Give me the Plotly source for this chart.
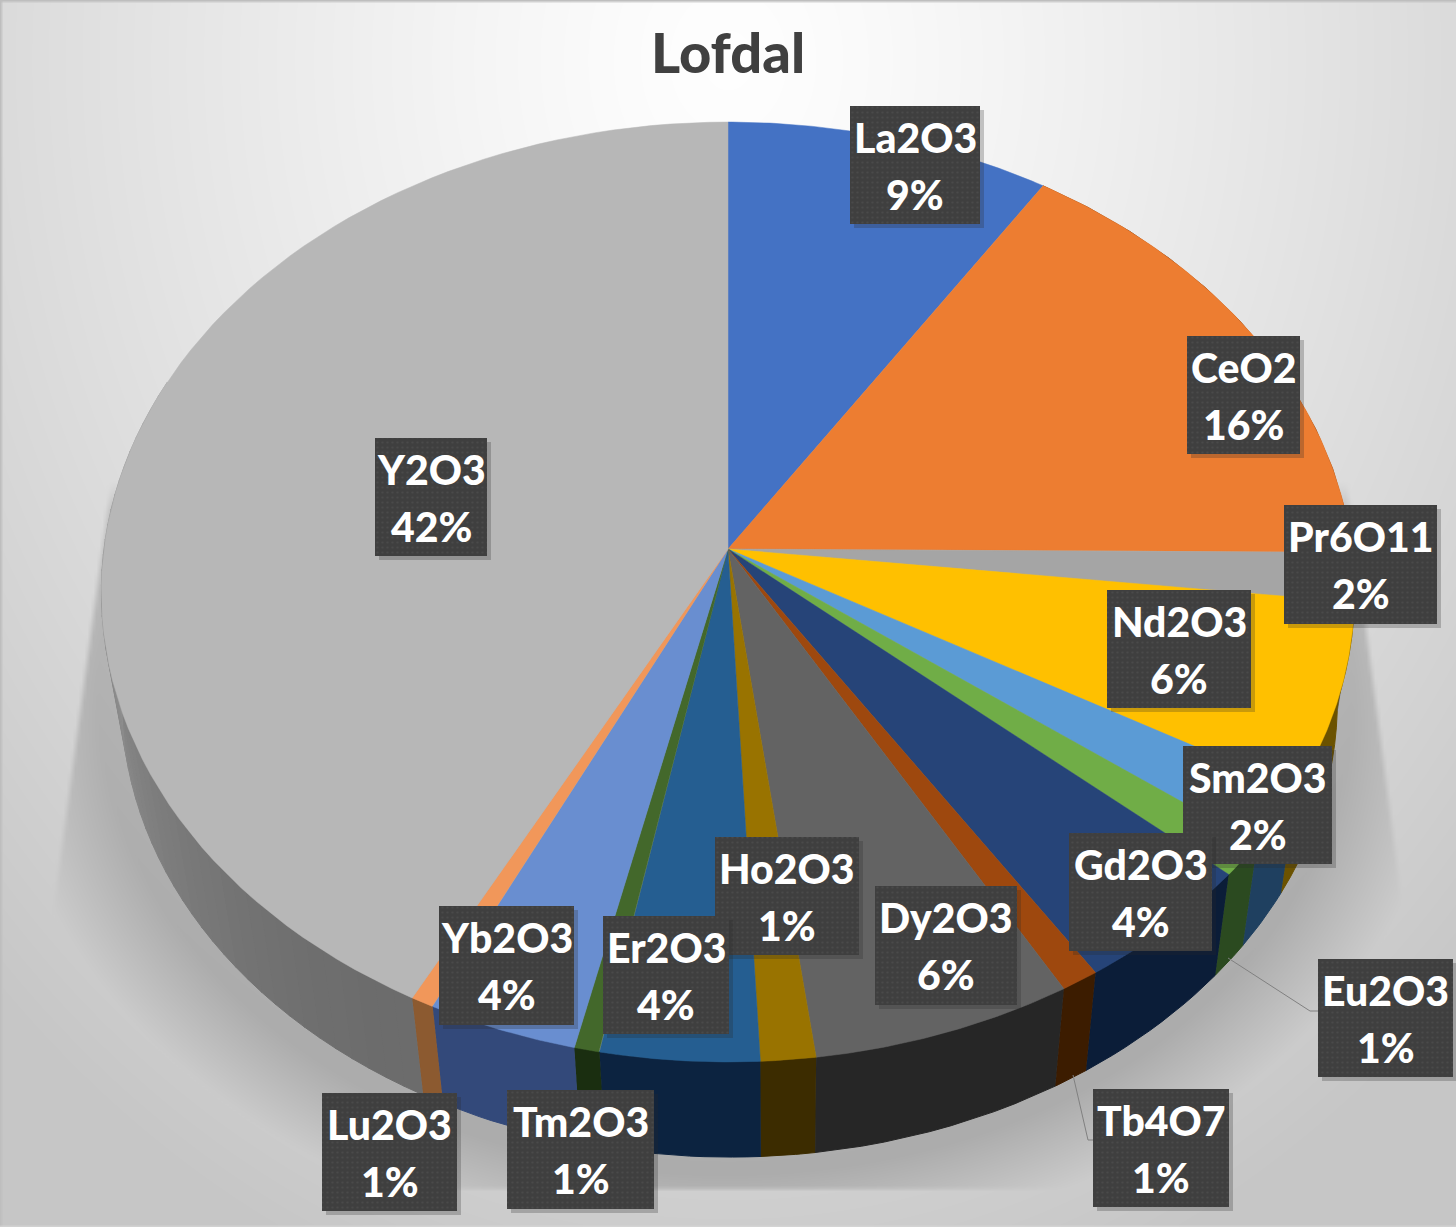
import numpy as np
import plotly.graph_objects as go

# ---- data ----
oxides = ["La2O3", "CeO2", "Pr6O11", "Nd2O3", "Sm2O3", "Eu2O3", "Gd2O3", "Tb4O7",
          "Dy2O3", "Ho2O3", "Er2O3", "Tm2O3", "Yb2O3", "Lu2O3", "Y2O3"]
shares = [9.15, 15.95, 1.7, 6.4, 2.0, 1.2, 4.45, 0.9, 6.2, 1.3, 3.75, 0.6, 3.55, 0.55, 42.3]
title_text = "Lofdal"

# ---- style ----
top_colors = ["#4472C4", "#ED7D31", "#A5A5A5", "#FFC000", "#5B9BD5", "#70AD47", "#264478",
              "#9E480E", "#636363", "#997300", "#255E91", "#43682B", "#698ED0", "#F1975A", "#B7B7B7"]
wall_colors = ["#2a4478", "#8a4a1c", "#666666", "#6b5200", "#1f4060", "#2b4a20", "#0b1d38",
               "#3c1c00", "#262626", "#3c2c00", "#0c2340", "#1a2e10", "#33497a", "#8c5a30", None]
# label box: left, right, top, bottom
label_boxes = [(850, 980, 106, 224), (1187, 1300, 336, 454), (1284, 1437, 505, 624),
               (1107, 1251, 590, 708), (1183, 1332, 746, 864), (1318, 1453, 959, 1077),
               (1069, 1212, 833, 951), (1093, 1229, 1089, 1207), (875, 1017, 886, 1005),
               (715, 859, 837, 955), (603, 729, 916, 1034), (507, 654, 1090, 1209),
               (439, 574, 906, 1025), (322, 457, 1093, 1211), (375, 487, 438, 556)]
leaders = [([1228, 1310, 1318], [958, 1011, 1011]), ([1073, 1088, 1093], [1075, 1140, 1140])]
W, H = 1456, 1227
FONT = "Lato"


# perspective projection of the disc's rim
def rim(theta):
    a, A, B = 0.0915, 624.0, 466.0
    w = 1 + a * np.cos(theta)
    return 728 + A * np.sin(theta) / w, 549 - B * np.cos(theta) / w


def lower(x, y):
    s = 0.97
    return 780 + s * (x - 780), 127 + s * y


fig = go.Figure()

# background with soft shadow
gx = np.linspace(0, W, 486)
gy = np.linspace(0, H, 410)
X, Y = np.meshgrid(gx, gy)
rb = np.sqrt(((X - 728) / 1050) ** 2 + ((Y - 60) / 1300) ** 2)
bg = 254 - 56 * np.clip(rb, 0, 1) ** 1.25
r = np.sqrt(((X - 725) / 610) ** 2 + ((Y - 690) / 470) ** 2)
sh = np.clip((1.2 - r) / 0.17, 0, 1)
left_edge = 100 + (58 - 100) * (Y - 540) / 310
right_edge = 1370 + (1395 - 1370) * (Y - 640) / 190
mask = (np.clip((X - left_edge) / 6, 0, 1) * np.clip((right_edge - X) / 6, 0, 1)
        * np.clip((1190 - Y) / 3, 0, 1) * np.clip((Y - 480) / 30, 0, 1))
z = bg - 36 * sh * mask
z[:1, :] = 190
z[:, :1] = 190
z[-1:, :] = 215
fig.add_trace(go.Heatmap(x=gx, y=gy, z=z.astype("float32"), zmin=0, zmax=255, showscale=False,
                         zsmooth="best", colorscale=[[0, "#000000"], [1, "#ffffff"]], hoverinfo="skip"))

edges = np.cumsum([0.0] + shares) / sum(shares) * 2 * np.pi


def wall(t0, t1, color, name):
    th = np.linspace(t0, t1, 12)
    ux, uy = rim(th)
    lx, ly = lower(ux, uy)
    fig.add_trace(go.Scatter(x=np.r_[ux, lx[::-1]], y=np.r_[uy, ly[::-1]], mode="lines", fill="toself",
                             fillcolor=color, line=dict(width=1, color=color), name=name,
                             hoverinfo="skip"))


# side walls on the visible front half
for i, name in enumerate(oxides):
    t0, t1 = edges[i], edges[i + 1]
    if t1 < np.pi / 2:
        continue
    if wall_colors[i] is not None:
        wall(t0, t1, wall_colors[i], name)
    else:
        end = 1.62 * np.pi
        cuts = np.linspace(t0, end, 46)
        for j in range(45):
            g = int(108 + 62 * (j / 44) ** 1.4)
            wall(cuts[j], cuts[j + 1] + 0.002, f"rgb({g},{g},{g})", name)

# top of the disc
for i, name in enumerate(oxides):
    th = np.linspace(edges[i], edges[i + 1], 80)
    ax, ay = rim(th)
    fig.add_trace(go.Scatter(x=np.r_[728, ax, 728], y=np.r_[549, ay, 549], mode="lines", fill="toself",
                             fillcolor=top_colors[i], line=dict(width=0.5, color=top_colors[i]),
                             name=name, text=f"{name}: {shares[i]:.1f}%", hoverinfo="text"))

# leader lines
for lx, ly in leaders:
    fig.add_trace(go.Scatter(x=lx, y=ly, mode="lines", line=dict(color="#808080", width=1), hoverinfo="skip"))

annotations = [dict(x=728, y=51, text=title_text, showarrow=False, xref="x", yref="y",
                    font=dict(family=FONT, size=56, color="#404040", weight=900))]

# labels
for i, name in enumerate(oxides):
    l, r_, t, b = label_boxes[i]
    fig.add_trace(go.Scatter(x=[l + 4, r_ + 4, r_ + 4, l + 4, l + 4], y=[t + 4, t + 4, b + 4, b + 4, t + 4],
                             mode="lines", fill="toself", fillcolor="rgba(40,40,40,0.25)",
                             line=dict(width=0), hoverinfo="skip"))
    fig.add_trace(go.Scatter(x=[l, r_, r_, l, l], y=[t, t, b, b, t], mode="lines", fill="toself",
                             fillcolor="#3f3f3f", line=dict(width=0), hoverinfo="skip",
                             fillpattern=dict(shape=".", size=5, solidity=0.15, bgcolor="#3f3f3f", fgcolor="#565656")))
    cx = (l + r_) / 2
    for txt, dy in ((name, 31), (f"{round(shares[i])}%", 88)):
        annotations.append(dict(x=cx, y=t + dy, text=txt, showarrow=False, xref="x", yref="y",
                                font=dict(family=FONT, size=41, color="white", weight=900)))

fig.update_layout(width=W, height=H, margin=dict(l=0, r=0, t=0, b=0), showlegend=False,
                  paper_bgcolor="#e8e8e8", plot_bgcolor="#e8e8e8", annotations=annotations,
                  xaxis=dict(range=[0, W], visible=False, fixedrange=True),
                  yaxis=dict(range=[H, 0], visible=False, fixedrange=True))

fig.write_html("out.html", config={"displayModeBar": False},
               post_script="document.body.style.margin='0';document.body.style.overflow='hidden';")
